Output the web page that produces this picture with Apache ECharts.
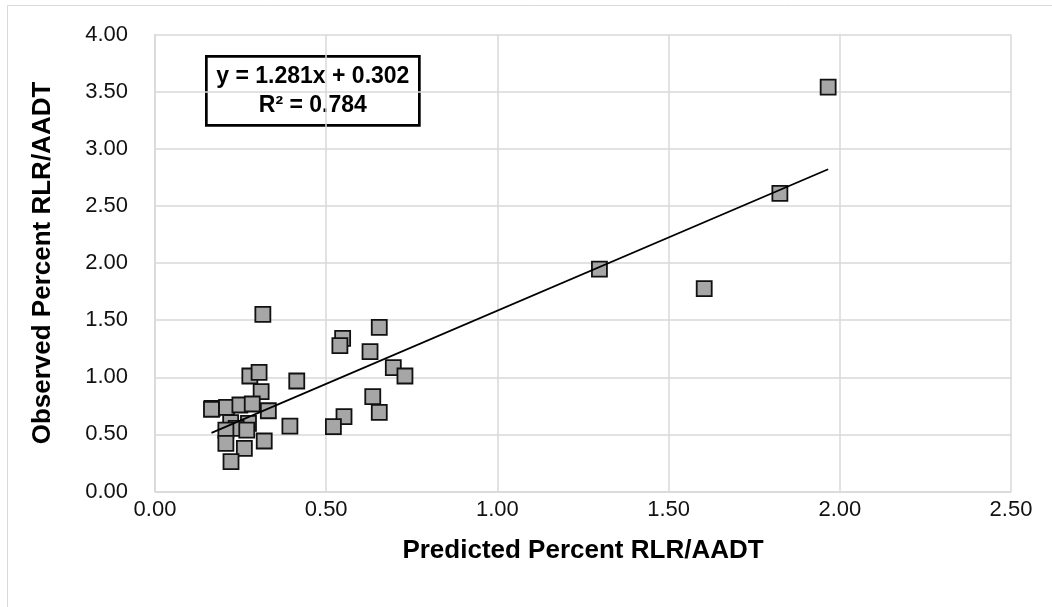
<!DOCTYPE html>
<html>
<head>
<meta charset="utf-8">
<script src="https://cdn.jsdelivr.net/npm/echarts@6/dist/echarts.min.js"></script>
<style>
    html, body { margin: 0; padding: 0; background: #fff; }
    #chart { width: 1052px; height: 607px; }
</style>
</head>
<body>
<div id="chart"></div>
<script>
// predicted vs observed percent RLR/AADT
var predicted = [
    1.966, 1.825, 1.298, 1.604, 0.315, 0.548, 0.540, 0.655, 0.628, 0.696,
    0.730, 0.277, 0.304, 0.414, 0.310, 0.636, 0.655, 0.552, 0.521, 0.394,
    0.167, 0.165, 0.209, 0.248, 0.284, 0.331, 0.273, 0.221, 0.237, 0.268,
    0.207, 0.207, 0.319, 0.261, 0.222
];
var observed = [
    3.54, 2.61, 1.947, 1.775, 1.551, 1.341, 1.276, 1.437, 1.224, 1.084,
    1.011, 1.011, 1.043, 0.967, 0.874, 0.830, 0.693, 0.655, 0.567, 0.573,
    0.728, 0.720, 0.737, 0.757, 0.766, 0.707, 0.597, 0.602, 0.553, 0.538,
    0.538, 0.422, 0.442, 0.378, 0.261
];
var xTicks = [0, 0.5, 1, 1.5, 2, 2.5];
var yTicks = [0, 0.5, 1, 1.5, 2, 2.5, 3, 3.5, 4];

// trendline as printed on the chart
var trendSlope = 1.281;
var trendIntercept = 0.302;
var trendR2 = 0.784;

var chart = echarts.init(document.getElementById("chart"));

var points = predicted.map(function (x, i) {
    return [x, observed[i]];
});
var xMin = Math.min.apply(null, predicted);
var xMax = Math.max.apply(null, predicted);
var trend = [
    [xMin, trendSlope * xMin + trendIntercept],
    [xMax, trendSlope * xMax + trendIntercept]
];

var font = "Liberation Sans, Arial, sans-serif";
var gridLine = { show: true, lineStyle: { color: "#d9d9d9", width: 1.5 } };

var option = {
    animation: false,
    backgroundColor: "#fff",
    grid: { left: 155, right: 41, top: 34.5, bottom: 115.5 },
    xAxis: {
        type: "value",
        min: xTicks[0],
        max: xTicks[xTicks.length - 1],
        interval: 0.5,
        name: "Predicted Percent RLR/AADT",
        nameLocation: "middle",
        nameGap: 46,
        nameTextStyle: { fontFamily: font, fontSize: 26, fontWeight: "bold", color: "#000" },
        axisLine: { show: true, lineStyle: { color: "#d9d9d9", width: 1.5 } },
        axisTick: { show: false },
        axisLabel: {
            fontFamily: font, fontSize: 22, color: "#111", margin: 7,
            formatter: function (v) { return v.toFixed(2); }
        },
        splitLine: gridLine
    },
    yAxis: {
        type: "value",
        min: yTicks[0],
        max: yTicks[yTicks.length - 1],
        interval: 0.5,
        name: "Observed Percent RLR/AADT",
        nameLocation: "middle",
        nameGap: 99,
        nameTextStyle: { fontFamily: font, fontSize: 26, fontWeight: "bold", color: "#000" },
        axisLine: { show: true, lineStyle: { color: "#d9d9d9", width: 1.5 } },
        axisTick: { show: false },
        axisLabel: {
            fontFamily: font, fontSize: 22, color: "#111", margin: 27,
            formatter: function (v) { return v.toFixed(2); }
        },
        splitLine: gridLine
    },
    series: [
        {
            name: "trend",
            type: "line",
            data: trend,
            symbol: "none",
            silent: true,
            z: 3,
            lineStyle: { color: "#000", width: 1.8 }
        },
        {
            name: "sites",
            type: "scatter",
            data: points,
            symbol: "rect",
            symbolSize: 15,
            z: 2,
            itemStyle: { color: "#a6a6a6", borderColor: "#111", borderWidth: 1.8, opacity: 1 }
        }
    ],
    graphic: [
        {
            type: "rect",
            silent: true,
            shape: { x: 7.5, y: 5.5, width: 1100, height: 700 },
            style: { fill: null, stroke: "#d9d9d9", lineWidth: 1 }
        },
        {
            type: "group",
            left: 205,
            top: 55,
            children: [
                {
                    type: "rect",
                    shape: { x: 0, y: 0, width: 213, height: 69 },
                    style: { fill: "#fff", stroke: "#000", lineWidth: 2.7 }
                },
                {
                    type: "text",
                    x: 106.5, y: 20,
                    style: {
                        text: "y = " + trendSlope.toFixed(3) + "x + " + trendIntercept.toFixed(3),
                        fontFamily: font, fontSize: 23, fontWeight: "bold", fill: "#000",
                        align: "center", verticalAlign: "middle"
                    }
                },
                {
                    type: "text",
                    x: 106.5, y: 49,
                    style: {
                        text: "R² = " + trendR2.toFixed(3),
                        fontFamily: font, fontSize: 23, fontWeight: "bold", fill: "#000",
                        align: "center", verticalAlign: "middle"
                    }
                }
            ]
        }
    ]
};

chart.setOption(option);
</script>
</body>
</html>
